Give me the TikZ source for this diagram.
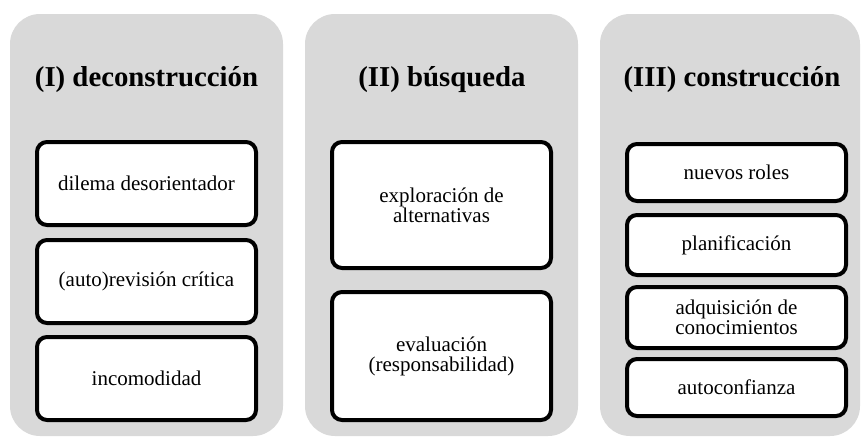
\documentclass[tikz,border=0pt]{standalone}
\usepackage{fontspec}
\setmainfont{Liberation Serif}
\definecolor{panelgray}{RGB}{217,217,217}
\tikzset{
  panel/.style={fill=panelgray, draw=none, rounded corners=30pt, minimum height=422pt, inner sep=0pt},
  ttl/.style={font=\fontsize{28.8}{30}\selectfont\bfseries, inner sep=0pt, anchor=center},
  item/.style={draw=black, line width=4pt, fill=white, rounded corners=10pt, minimum width=219pt,
    inner sep=0pt, align=center, font=\fontsize{21}{20}\selectfont}
}
\begin{document}
\begin{tikzpicture}[x=1pt,y=-1pt]
\useasboundingbox (0,0) rectangle (862,437);
\fill[white] (0,0) rectangle (862,437);
% panels
\node[panel, minimum width=273pt] (p1) at (146.5,225) {};
\node[panel, minimum width=273pt] (p2) at (441.5,225) {};
\node[panel, minimum width=260pt] (p3) at (730,225) {};
% titles
\node[ttl] (t1) at (146.5,80) {(I) deconstrucción};
\node[ttl] (t2) at (442,80) {(II) búsqueda};
\node[ttl] (t3) at (732,80) {(III) construcción};
% panel 1
\node[item, minimum height=83pt] (a1) at (146.5,183.5) {dilema desorientador};
\node[item, minimum height=83pt] (a2) at (146.5,281.5) {(auto)revisión crítica};
\node[item, minimum height=83pt] (a3) at (146.5,378.5) {incomodidad};
% panel 2
\node[item, minimum height=126pt] (b1) at (441.5,205) {exploración de\\alternativas};
\node[item, minimum height=128pt] (b2) at (441.5,356) {evaluación\\(responsabilidad)};
% panel 3
\node[item, minimum height=57pt] (c1) at (736.5,172.5) {nuevos roles};
\node[item, minimum height=60pt] (c2) at (736.5,245) {planificación};
\node[item, minimum height=61pt] (c3) at (736.5,317.5) {adquisición de\\conocimientos};
\node[item, minimum height=57pt] (c4) at (736.5,387.5) {autoconfianza};
\end{tikzpicture}
\end{document}
